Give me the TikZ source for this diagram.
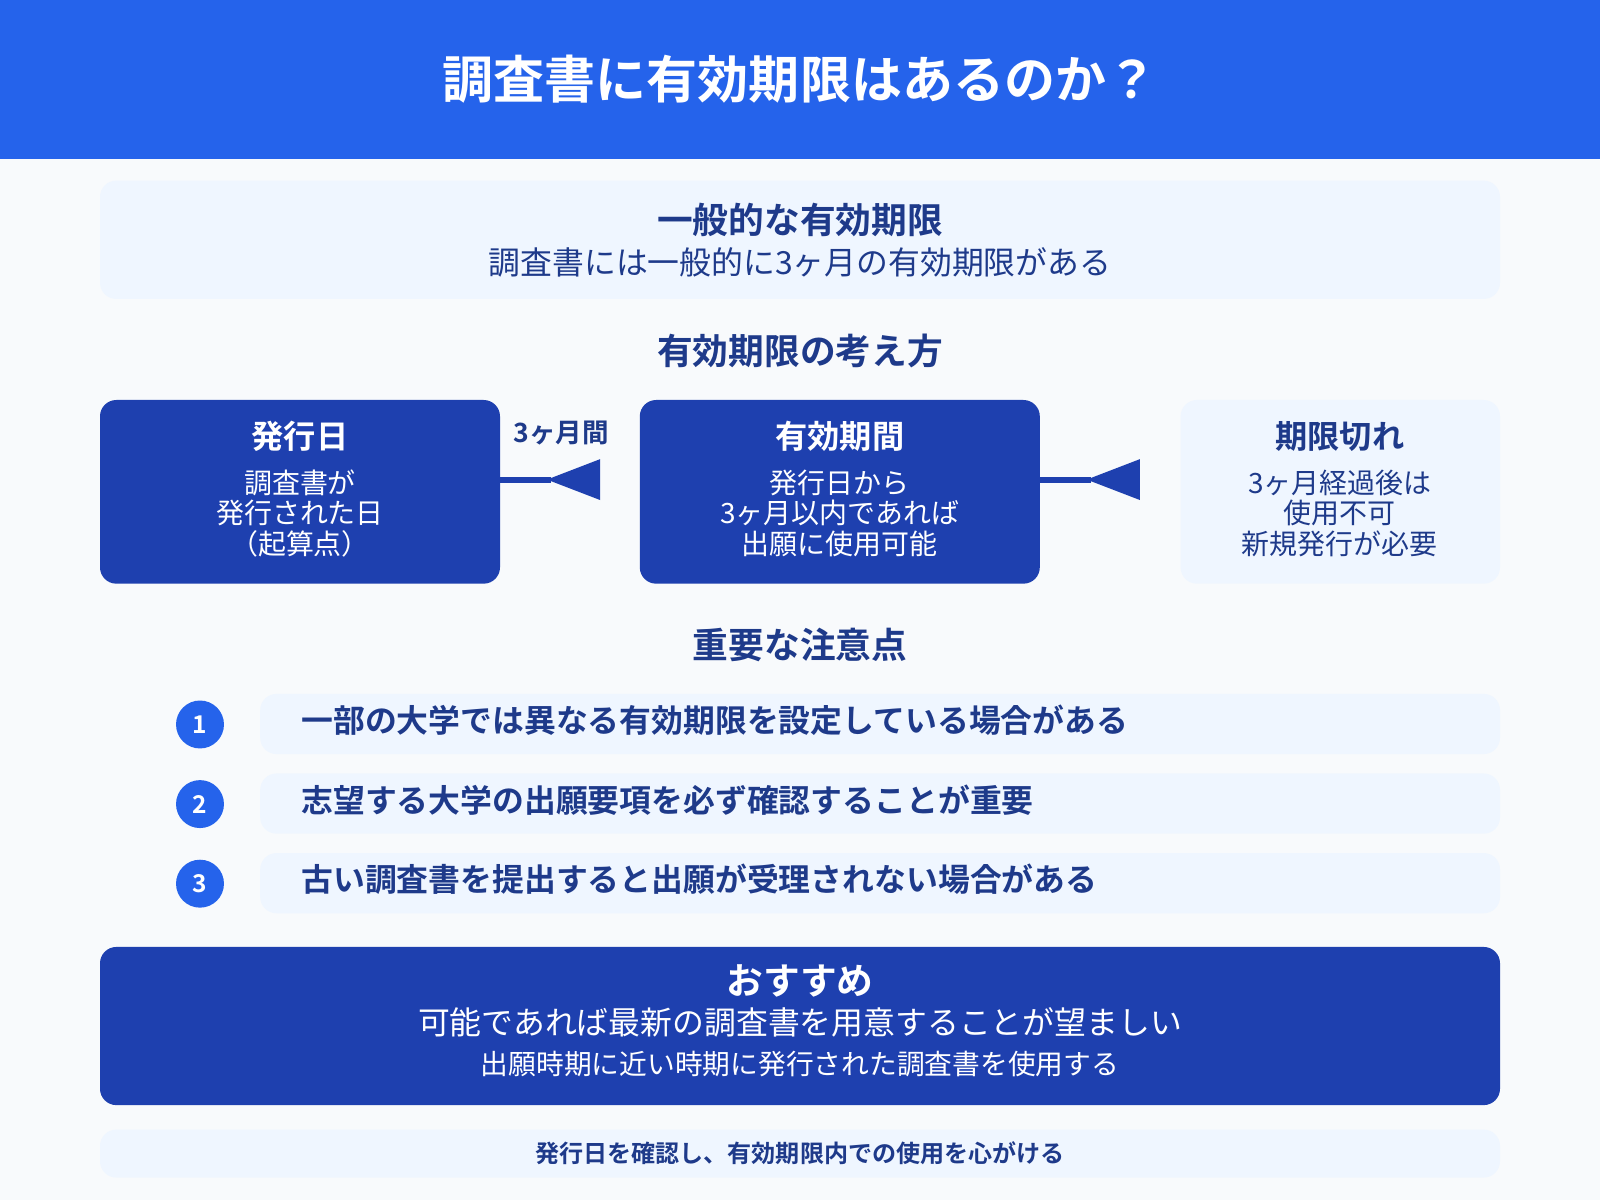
\documentclass[tikz,border=0pt]{standalone}
\usepackage{fontspec}
\setmainfont{Noto Sans CJK JP}
\newfontfamily\bfj{Noto Sans CJK JP Bold}
\definecolor{hdr}{HTML}{2563EB}
\definecolor{navy}{HTML}{1E40AF}
\definecolor{lite}{HTML}{EFF6FF}
\definecolor{bg}{HTML}{F8FAFC}
\definecolor{txt}{HTML}{1E3A8A}
\begin{document}
\begin{tikzpicture}[x=0.5pt,y=-0.5pt,
  litebox/.style={fill=lite,rounded corners=8pt},
  navybox/.style={fill=navy,rounded corners=8pt},
  t/.style={inner sep=0pt,align=center,font=\fontsize{13}{15}\selectfont},
  numc/.style={circle,fill=hdr,minimum size=23.5pt,inner sep=0pt,text=white,font=\bfj\fontsize{12}{12}\selectfont}]
\useasboundingbox (0,0) rectangle (1568,1176);
\fill[bg] (0,0) rectangle (1568,1176);
\fill[hdr] (0,0) rectangle (1568,156);
\node[t,text=white,font=\bfj\fontsize{25}{27}\selectfont] (title) at (784,78) {調査書に有効期限はあるのか？};
\fill[litebox] (98,177) rectangle (1470,293);
\node[t,text=txt,font=\bfj\fontsize{17.5}{19}\selectfont] (g1) at (784,216) {一般的な有効期限};
\node[t,text=txt,font=\fontsize{15.6}{17}\selectfont] (g2) at (784,257) {調査書には一般的に3ヶ月の有効期限がある};
\node[t,text=txt,font=\bfj\fontsize{17.5}{19}\selectfont] (h2) at (784,344) {有効期限の考え方};
\fill[navybox] (98,392) rectangle (490,572);
\fill[navybox] (627,392) rectangle (1019,572);
\fill[litebox] (1157,392) rectangle (1470,572);
\node[t,text=white,font=\bfj\fontsize{15.8}{17}\selectfont] (a1) at (294,428) {発行日};
\node[t,text=white,font=\fontsize{13.7}{15}\selectfont] (a2) at (294,503) {調査書が\\発行された日\\（起算点）};
\node[t,text=white,font=\bfj\fontsize{15.8}{17}\selectfont] (b1) at (823,428) {有効期間};
\node[t,text=white,font=\fontsize{13.7}{15}\selectfont] (b2) at (823,503) {発行日から\\3ヶ月以内であれば\\出願に使用可能};
\node[t,text=txt,font=\bfj\fontsize{15.8}{17}\selectfont] (c1) at (1313,428) {期限切れ};
\node[t,text=txt,font=\fontsize{13.7}{15}\selectfont] (c2) at (1313,503) {3ヶ月経過後は\\使用不可\\新規発行が必要};
\node[t,text=txt,font=\bfj\fontsize{13}{14}\selectfont] (lab) at (550,424) {3ヶ月間};
\coordinate (p1) at (490,470); \coordinate (q1) at (588,470);
\coordinate (p2) at (1019,470); \coordinate (q2) at (1117,470);
\draw[navy,line width=3pt] (p1) -- (540,470);
\fill[navy] (536,470) -- (588,450) -- (588,490) -- cycle;
\draw[navy,line width=3pt] (p2) -- (1069,470);
\fill[navy] (1065,470) -- (1117,450) -- (1117,490) -- cycle;
\node[t,text=txt,font=\bfj\fontsize{17.5}{19}\selectfont] (h3) at (784,632) {重要な注意点};
\foreach \i/\y/\s in {1/710/一部の大学では異なる有効期限を設定している場合がある,2/788/志望する大学の出願要項を必ず確認することが重要,3/866/古い調査書を提出すると出願が受理されない場合がある}{
  \fill[litebox] (255,\y-30) rectangle (1470,\y+29);
  \node[numc] (n\i) at (196,\y) {\i};
  \node[t,anchor=west,text=txt,font=\bfj\fontsize{15.6}{17}\selectfont] (l\i) at (295,\y-4) {\s};
}
\fill[navybox] (98,928) rectangle (1470,1083);
\node[t,text=white,font=\bfj\fontsize{18}{20}\selectfont] (r1) at (784,961) {おすすめ};
\node[t,text=white,font=\fontsize{15.6}{17}\selectfont] (r2) at (784,1002) {可能であれば最新の調査書を用意することが望ましい};
\node[t,text=white,font=\fontsize{13.6}{15}\selectfont] (r3) at (784,1043) {出願時期に近い時期に発行された調査書を使用する};
\fill[litebox] (98,1107) rectangle (1470,1154);
\node[t,text=txt,font=\bfj\fontsize{11.8}{13}\selectfont] (f) at (784,1130) {発行日を確認し、有効期限内での使用を心がける};
\end{tikzpicture}
\end{document}
